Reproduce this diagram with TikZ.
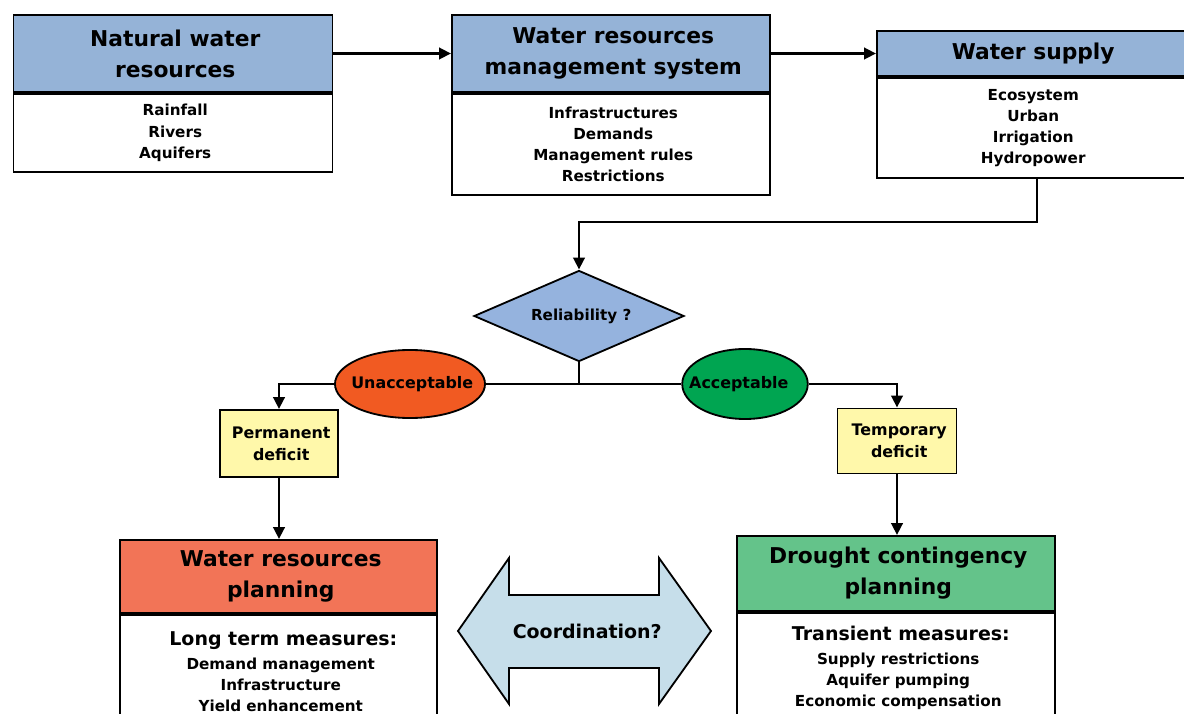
\documentclass[tikz,border=0pt]{standalone}
\usepackage{fontspec}
\setmainfont{DejaVu Sans}
\usetikzlibrary{shapes.geometric,arrows.meta,positioning}
\definecolor{hdrblue}{HTML}{95B3D7}
\definecolor{relblue}{HTML}{95B3DE}
\definecolor{unaccred}{HTML}{F15A22}
\definecolor{accgreen}{HTML}{00A551}
\definecolor{deficityellow}{HTML}{FFF8AA}
\definecolor{planred}{HTML}{F27457}
\definecolor{plangreen}{HTML}{64C38A}
\definecolor{coordblue}{HTML}{C6DEEA}

\begin{document}
\begin{tikzpicture}[x=0.025cm,y=-0.025cm,
	header/.style={draw,line width=1.3pt,align=center,inner sep=0pt},
	body/.style={draw,line width=1.3pt,fill=white,align=center,inner sep=0pt},
	deficit/.style={draw,line width=1.3pt,fill=deficityellow,align=center,inner sep=0pt},
	arr/.style={line width=2.1pt,-{Triangle[length=8.5pt,width=8pt]}},
	line/.style={line width=2.1pt}]
			\newcommand{\mytitlefont}{
				\fontsize{15.5}{22}\selectfont\bfseries
			}\newcommand{\mybodyfont}{
				\fontsize{10.8}{15}\selectfont\bfseries
			}\newcommand{\mymediumfont}{
				\fontsize{13.5}{17}\selectfont\bfseries
			}\newcommand{\mylabelfont}{
				\fontsize{11.3}{15.5}\selectfont\bfseries
			}%Page size
			\useasboundingbox (0,0) rectangle (1184,714);
			%Top row of boxes
			\coordinate (cNat) at (173,53.5);
			\coordinate (cWrm) at (611,53.5);
			\coordinate (cWs) at (1031,53.5);
			\node [header,fill=hdrblue,minimum width=7.975cm,minimum height=1.925cm,font=\mytitlefont] (nat) at (cNat) {Natural water\\resources};
			\node [body,minimum width=7.975cm,minimum height=1.95cm,font=\mybodyfont,below=0pt of nat] (natBody) {Rainfall\\Rivers\\Aquifers};
			\node [header,fill=hdrblue,minimum width=7.95cm,minimum height=1.925cm,font=\mytitlefont] (wrm) at (cWrm) {Water resources\\management system};
			\node [body,minimum width=7.95cm,minimum height=2.525cm,font=\mybodyfont,below=0pt of wrm] (wrmBody) {Infrastructures\\Demands\\Management rules\\Restrictions};
			\node [header,fill=hdrblue,minimum width=7.7cm,minimum height=1.125cm,font=\mytitlefont] (ws) at (cWs) {Water supply};
			\node [body,minimum width=7.7cm,minimum height=2.5cm,font=\mybodyfont,below=0pt of ws] (wsBody) {Ecosystem\\Urban\\Irrigation\\Hydropower};
			%Decision
			\coordinate (cRel) at (579,316);
			\node [draw,line width=1.3pt,diamond,aspect=2.3,fill=relblue,minimum width=5.25cm,minimum height=2.275cm,inner sep=0pt,font=\mybodyfont] (rel) at (cRel) {Reliability ?};
			%Deficit boxes
			\coordinate (cPerm) at (279,443.5);
			\coordinate (cTemp) at (897,441);
			\node [deficit,minimum width=2.95cm,minimum height=1.675cm,font=\mylabelfont] (perm) at (cPerm) {Permanent\\deficit};
			\node [deficit,minimum width=2.975cm,minimum height=1.625cm,font=\mylabelfont] (temp) at (cTemp) {Temporary\\deficit};
			%Outcomes
			\coordinate (cUnacc) at (410,384);
			\coordinate (cAcc) at (745,384);
			\node [draw,line width=1.3pt,ellipse,fill=unaccred,minimum width=3.75cm,minimum height=1.7cm,inner ysep=0pt,inner xsep=-7.5pt,font=\mylabelfont] (unacc) at (cUnacc) {Unacceptable};
			\node [draw,line width=1.3pt,ellipse,fill=accgreen,minimum width=3.125cm,minimum height=1.75cm,inner ysep=0pt,inner xsep=-11.3pt,font=\mylabelfont] (acc) at (cAcc) {Acceptable\kern 12pt};
			%Planning boxes
			\coordinate (cWrp) at (278.5,576.5);
			\coordinate (cDcp) at (896,573.5);
			\node [header,fill=planred,minimum width=7.925cm,minimum height=1.825cm,font=\mytitlefont] (wrp) at (cWrp) {Water resources\\planning};
			\node [body,minimum width=7.925cm,minimum height=2.85cm,font=\mybodyfont,below=0pt of wrp] (wrpBody) {{\mymediumfont Long term measures:}\\[2pt]Demand management\\Infrastructure\\Yield enhancement};
			\node [header,fill=plangreen,minimum width=7.95cm,minimum height=1.875cm,font=\mytitlefont] (dcp) at (cDcp) {Drought contingency\\planning};
			\node [body,minimum width=7.95cm,minimum height=2.75cm,font=\mybodyfont,below=0pt of dcp] (dcpBody) {{\mymediumfont Transient measures:}\\[2pt]Supply restrictions\\Aquifer pumping\\Economic compensation};
			%Coordination arrow
			\coordinate (cCoord) at (585,631);
			\draw [line width=1.3pt,fill=coordblue] (458,631) -- (509,558) -- (509,595) -- (659,595) -- (659,558) -- (711,631) -- (659,704) -- (659,668) -- (509,668) -- (509,704) -- cycle;
			\node [font=\mymediumfont] (coord) at (cCoord) {Coordination?};
			%Connectors
			\coordinate (bend) at (1037,222);
			\coordinate (junc) at (579,384);
			\draw [arr] (nat.east) -- (nat.east -| wrm.west);
			\draw [arr] (wrm.east) -- (wrm.east -| ws.west);
			\draw [arr] (wsBody.south -| bend) -- (bend) -- (bend -| rel.north) -- (rel.north);
			\draw [line] (rel.south) -- (junc);
			\draw [line] (junc) -- (unacc);
			\draw [line] (junc) -- (acc);
			\draw [arr] (unacc) -| (perm);
			\draw [arr] (acc) -| (temp);
			\draw [arr] (perm) -- (perm |- wrp.north);
			\draw [arr] (temp) -- (temp |- dcp.north);
\end{tikzpicture}
\end{document}
